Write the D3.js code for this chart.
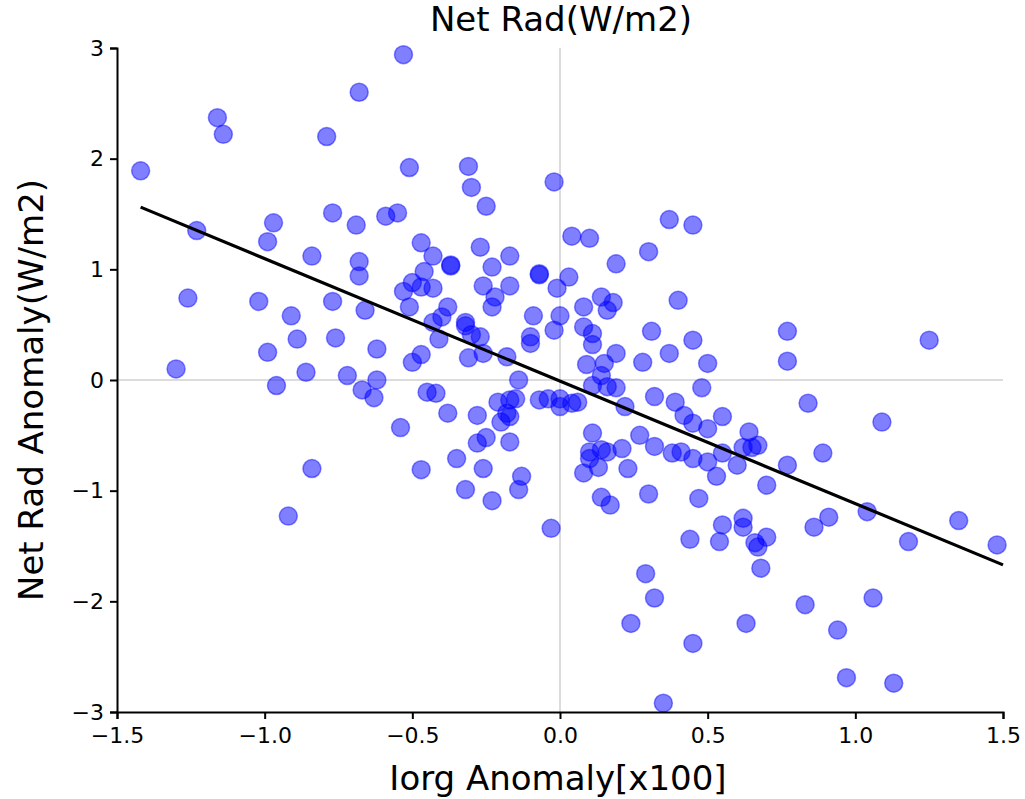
<!DOCTYPE html>
<html>
<head>
<meta charset="utf-8">
<script src="https://cdn.jsdelivr.net/npm/d3@7"></script>
<style>
body { margin: 0; background: #fff; }
text { font-family: "DejaVu Sans", sans-serif; fill: #000; }
</style>
</head>
<body>
<script>
var width = 1025
var height = 799
var margin = {left: 117, right: 22, top: 48, bottom: 87}

// iorg anomaly [x100] and net rad anomaly (W/m2)
var iorg = [-0.53,-0.68,-1.16,-1.14,-0.79,-1.42,-0.51,-0.31,-0.30,-0.02,
  -0.77,-0.69,-0.59,-0.55,-0.97,-0.99,-1.23,-0.84,-0.68,-0.68,
  -1.26,-1.02,-0.77,-0.66,-0.53,-0.50,-0.51,-0.91,-0.89,-0.76,
  -0.99,-0.62,-1.30,-0.86,-0.72,-0.62,-0.96,-0.50,-0.67,-0.63,
  -0.54,-0.84,-0.92,-0.25,-0.47,-0.43,-0.37,-0.37,-0.27,-0.23,
  -0.17,-0.07,-0.07,0.04,0.10,0.19,0.30,0.37,0.45,-0.46,
  -0.47,-0.43,-0.26,-0.17,-0.22,-0.23,-0.01,0.03,0.14,0.18,
  0.16,0.08,0.40,-0.38,-0.40,-0.43,-0.32,-0.32,-0.30,-0.27,
  -0.41,-0.09,0.00,-0.02,-0.10,-0.10,0.08,0.11,0.11,0.31,
  0.45,-0.47,-0.31,-0.26,-0.18,-0.14,0.19,0.28,0.37,0.09,
  0.15,0.14,0.50,0.77,0.77,1.25,0.48,-0.45,-0.42,-0.38,
  -0.28,-0.21,-0.17,-0.15,-0.18,-0.17,-0.20,-0.25,-0.28,-0.17,
  -0.35,-0.47,-0.26,-0.32,-0.23,-0.13,-0.14,-0.03,-0.07,-0.04,
  0.00,0.00,0.04,0.06,0.11,0.16,0.19,0.22,0.11,0.10,
  0.14,0.16,0.10,0.13,0.08,0.21,0.23,0.14,0.17,0.27,
  0.32,0.39,0.42,0.45,0.32,0.38,0.41,0.45,0.30,0.47,
  0.44,0.29,0.32,0.24,0.45,0.35,0.84,1.09,0.55,0.50,
  0.64,0.62,0.67,0.65,0.89,0.55,0.50,0.60,0.53,0.77,
  0.70,0.62,0.62,0.55,0.54,0.70,0.67,0.66,0.68,0.86,
  0.91,1.04,1.18,1.35,1.48,0.83,1.06,0.63,0.94,0.97,1.13]

var netRad = [2.94,2.60,2.37,2.22,2.20,1.89,1.92,1.93,1.74,1.79,
  1.51,1.40,1.48,1.51,1.42,1.25,1.35,1.12,1.07,0.94,
  0.74,0.71,0.71,0.63,0.80,0.88,0.66,0.58,0.37,0.38,
  0.25,0.28,0.10,0.07,0.04,0.00,-0.05,0.16,-0.09,-0.16,
  -0.43,-0.80,-1.23,1.57,1.24,1.12,1.04,1.03,1.20,1.02,
  1.12,0.96,0.95,1.30,1.28,1.05,1.16,1.45,1.40,0.98,
  0.84,0.83,0.85,0.85,0.75,0.66,0.83,0.93,0.75,0.70,
  0.63,0.66,0.72,0.66,0.57,0.52,0.52,0.49,0.41,0.39,
  0.37,0.58,0.58,0.45,0.39,0.33,0.48,0.42,0.32,0.44,
  0.36,0.23,0.20,0.24,0.21,0.00,0.24,0.16,0.24,0.14,
  0.15,0.04,0.15,0.44,0.17,0.36,-0.07,-0.11,-0.12,-0.30,
  -0.32,-0.20,-0.18,-0.17,-0.30,-0.33,-0.38,-0.52,-0.57,-0.56,
  -0.71,-0.81,-0.80,-0.99,-1.09,-0.87,-0.99,-1.34,-0.18,-0.17,
  -0.17,-0.24,-0.21,-0.20,-0.05,-0.06,-0.07,-0.24,-0.48,-0.65,
  -0.63,-0.65,-0.71,-0.79,-0.84,-0.62,-0.80,-1.06,-1.13,-0.50,
  -0.15,-0.20,-0.32,-0.39,-0.60,-0.66,-0.65,-0.71,-1.03,-1.07,
  -1.44,-1.75,-1.97,-2.20,-2.38,-2.92,-0.21,-0.38,-0.33,-0.44,
  -0.47,-0.61,-0.59,-0.61,-0.66,-0.66,-0.74,-0.77,-0.87,-0.77,
  -0.95,-1.25,-1.33,-1.31,-1.46,-1.42,-1.51,-1.47,-1.70,-1.33,
  -1.24,-1.19,-1.46,-1.27,-1.49,-2.03,-1.97,-2.20,-2.26,-2.69,-2.74]

// linear fit drawn over the points
var fitSlope = -1.107
var fitIntercept = -0.01
var fitRange = [-1.42, 1.50]

var xTicks = [-1.5, -1.0, -0.5, 0.0, 0.5, 1.0, 1.5]
var yTicks = [-3, -2, -1, 0, 1, 2, 3]

var x = d3.scaleLinear()
  .domain([-1.5, 1.5])
  .range([margin.left, width - margin.right])

var y = d3.scaleLinear()
  .domain([-3, 3])
  .range([height - margin.bottom, margin.top])

var svg = d3.select("body").append("svg")
  .attr("width", width)
  .attr("height", height)

svg.append("rect").attr("width", width).attr("height", height).attr("fill", "#fff")

// zero lines
svg.append("line")
  .attr("x1", x(0)).attr("x2", x(0))
  .attr("y1", y(3)).attr("y2", y(-3))
  .attr("stroke", "#dcdcdc").attr("stroke-width", 2)
svg.append("line")
  .attr("x1", x(-1.5)).attr("x2", x(1.5))
  .attr("y1", y(0)).attr("y2", y(0))
  .attr("stroke", "#dcdcdc").attr("stroke-width", 2)

var points = iorg.map(function(d, i) { return {x: d, y: netRad[i]} })

svg.append("g")
  .selectAll("circle")
  .data(points)
  .enter().append("circle")
  .attr("cx", function(d) { return x(d.x) })
  .attr("cy", function(d) { return y(d.y) })
  .attr("r", 9)
  .attr("fill", "rgba(0,0,255,0.5)")
  .attr("stroke", "rgba(0,0,255,0.45)")
  .attr("stroke-width", 1.5)

var fitLine = d3.line()
  .x(function(d) { return x(d) })
  .y(function(d) { return y(fitSlope * d + fitIntercept) })

svg.append("path")
  .datum(fitRange)
  .attr("d", fitLine)
  .attr("fill", "none")
  .attr("stroke", "#000")
  .attr("stroke-width", 3.2)

// axes, only left and bottom spines
var xAxis = svg.append("g")
  .attr("transform", "translate(0," + y(-3) + ")")
  .call(d3.axisBottom(x).tickValues(xTicks).tickFormat(d3.format(".1f")).tickSize(7).tickPadding(5))
var yAxis = svg.append("g")
  .attr("transform", "translate(" + x(-1.5) + ",0)")
  .call(d3.axisLeft(y).tickValues(yTicks).tickFormat(d3.format("d")).tickSize(7).tickPadding(6))

svg.selectAll(".domain").attr("stroke", "#000").attr("stroke-width", 2)
svg.selectAll(".tick line").attr("stroke", "#000").attr("stroke-width", 2)
svg.selectAll(".tick text").attr("font-size", 22).attr("font-family", "DejaVu Sans").attr("fill", "#000")
xAxis.selectAll(".tick text").attr("dy", "0.85em")

svg.append("text")
  .attr("x", 561).attr("y", 31)
  .attr("text-anchor", "middle")
  .attr("font-size", 34)
  .text("Net Rad(W/m2)")

svg.append("text")
  .attr("x", 558).attr("y", 790)
  .attr("text-anchor", "middle")
  .attr("font-size", 34)
  .text("Iorg Anomaly[x100]")

svg.append("text")
  .attr("transform", "translate(43,390) rotate(-90)")
  .attr("text-anchor", "middle")
  .attr("font-size", 34)
  .text("Net Rad Anomaly(W/m2)")
</script>
</body>
</html>
